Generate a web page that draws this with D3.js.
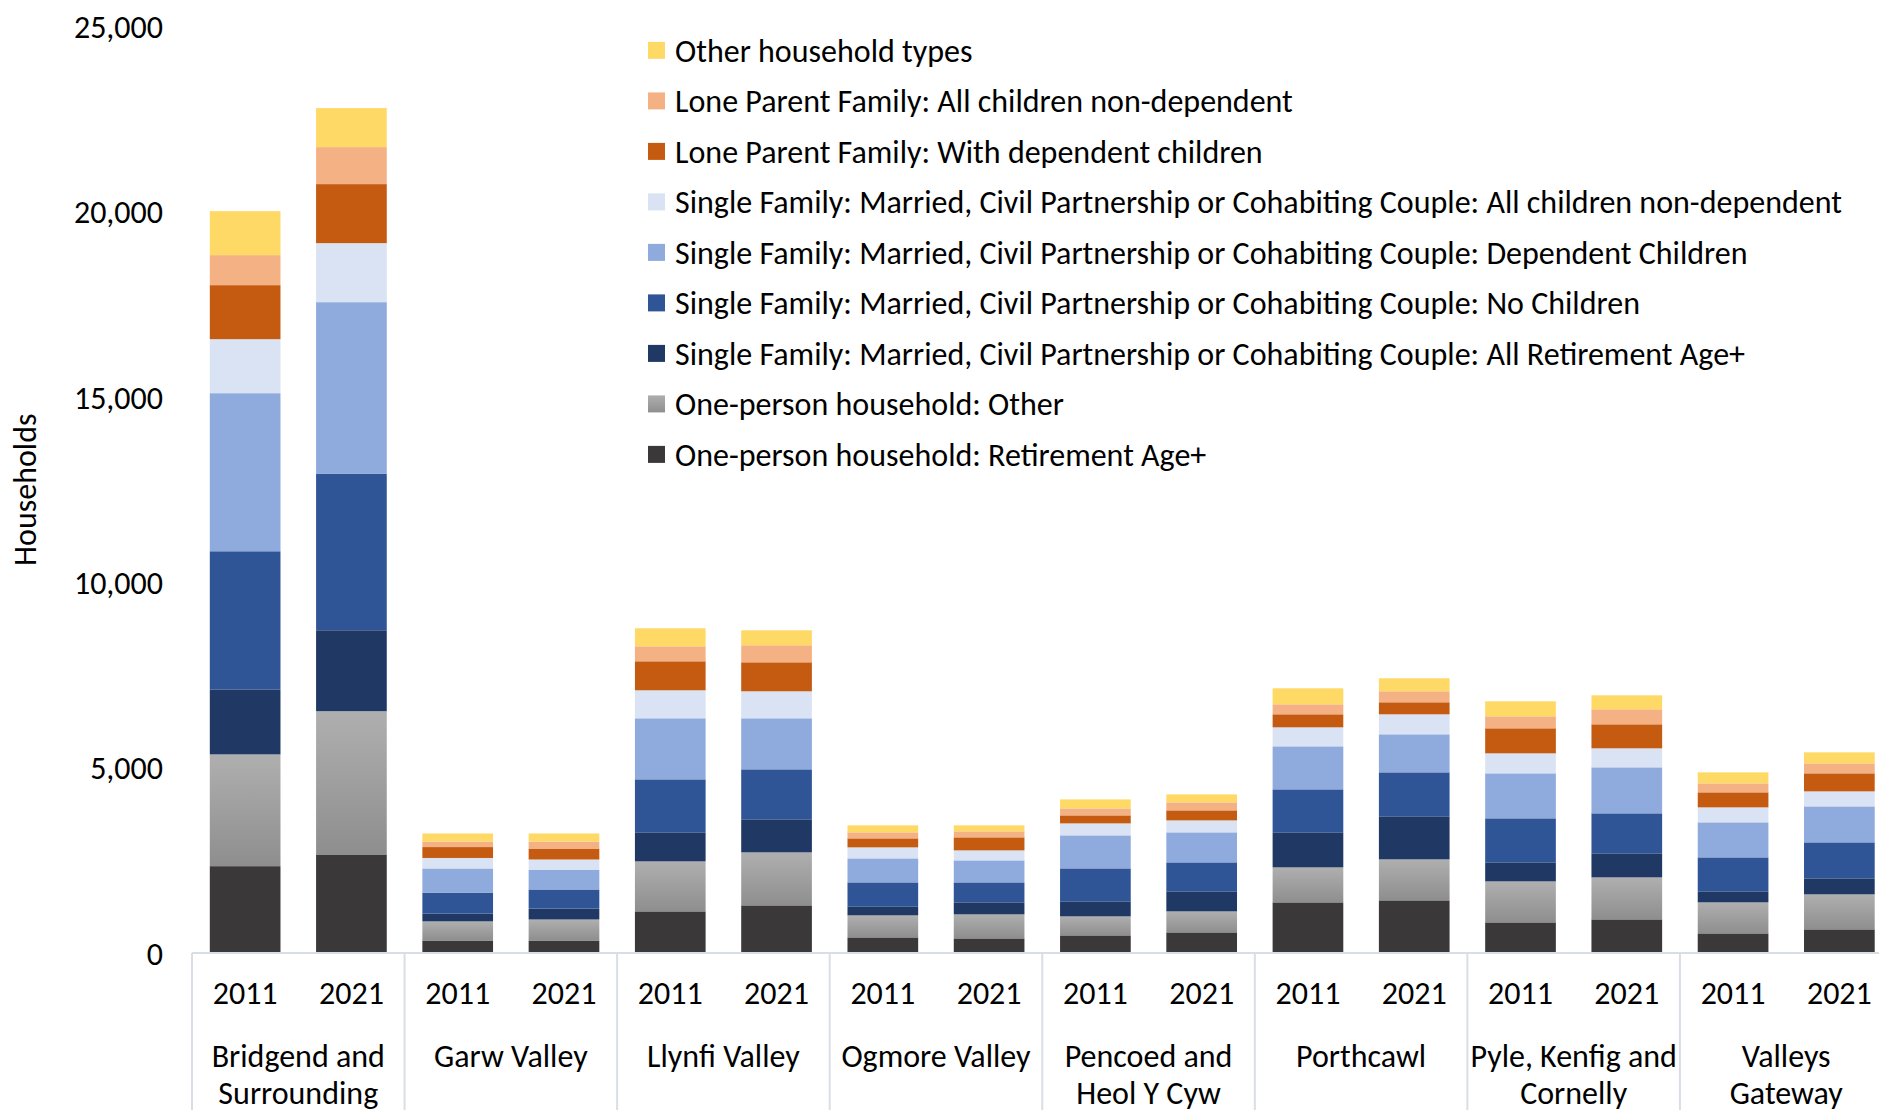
<!DOCTYPE html>
<html>
<head>
<meta charset="utf-8">
<script src="https://cdn.jsdelivr.net/npm/d3@7"></script>
<style>
    html, body { margin: 0; padding: 0; background: #fff; }
    svg { display: block; font-family: Calibri, Carlito, Lato, sans-serif; }
</style>
</head>
<body>
<div id="chart"></div>
<script>
// Households by type, 2011 vs 2021, per area

const regions = [
    ['Bridgend and', 'Surrounding'],
    ['Garw Valley'],
    ['Llynfi Valley'],
    ['Ogmore Valley'],
    ['Pencoed and', 'Heol Y Cyw'],
    ['Porthcawl'],
    ['Pyle, Kenfig and', 'Cornelly'],
    ['Valleys', 'Gateway']
];
const years = ['2011', '2021'];

// one value per bar: region by region, 2011 then 2021
const onePersonRetired = [2343, 2659, 337, 337, 1123, 1285, 421, 394, 475, 556, 1366, 1420, 826, 907, 529, 637];
const onePersonOther   = [3015, 3865, 516, 567, 1349, 1430, 594, 648, 513, 567, 944, 1106, 1106, 1133, 837, 945];
const coupleRetired    = [1754, 2183, 210, 294, 783, 891, 243, 324, 405, 540, 945, 1161, 513, 648, 297, 431];
const coupleNoChildren = [3727, 4219, 567, 516, 1430, 1349, 647, 539, 890, 782, 1160, 1187, 1188, 1080, 917, 972];
const coupleDependent  = [4265, 4634, 651, 535, 1647, 1377, 648, 594, 891, 810, 1161, 1026, 1214, 1241, 945, 971];
const coupleNonDep     = [1457, 1592, 283, 274, 756, 729, 297, 270, 323, 323, 513, 540, 540, 513, 404, 405];
const loneDependent    = [1458, 1593, 294, 295, 782, 782, 243, 351, 216, 270, 351, 324, 675, 648, 405, 486];
const loneNonDep       = [810, 998, 149, 189, 405, 459, 162, 162, 188, 216, 270, 297, 324, 405, 243, 270];
const otherTypes       = [1187, 1053, 218, 218, 486, 405, 189, 162, 243, 215, 432, 351, 405, 378, 297, 297];

// bottom to top
const series = [
    { key: 'One-person household: Retirement Age+', values: onePersonRetired, color: '#3a3838' },
    { key: 'One-person household: Other', values: onePersonOther, color: 'url(#grayFill)' },
    { key: 'Single Family: Married, Civil Partnership or Cohabiting Couple: All Retirement Age+', values: coupleRetired, color: '#203864' },
    { key: 'Single Family: Married, Civil Partnership or Cohabiting Couple: No Children', values: coupleNoChildren, color: '#2f5597' },
    { key: 'Single Family: Married, Civil Partnership or Cohabiting Couple: Dependent Children', values: coupleDependent, color: '#8faadc' },
    { key: 'Single Family: Married, Civil Partnership or Cohabiting Couple: All children non-dependent', values: coupleNonDep, color: '#dae3f3' },
    { key: 'Lone Parent Family: With dependent children', values: loneDependent, color: '#c55a11' },
    { key: 'Lone Parent Family: All children non-dependent', values: loneNonDep, color: '#f4b183' },
    { key: 'Other household types', values: otherTypes, color: '#ffd966' }
];

const yTicks = [0, 5000, 10000, 15000, 20000, 25000];

const width = 1879, height = 1110;
const plot = { left: 192, right: 1892.5, top: 26.4, bottom: 953 };
const fontSize = 32;

// rows for the stack
const rows = [];
regions.forEach((r, ri) => {
    years.forEach((yr, yi) => {
        const row = { region: ri, year: yr };
        series.forEach(s => { row[s.key] = s.values[ri * 2 + yi]; });
        rows.push(row);
    });
});

const stacked = d3.stack().keys(series.map(s => s.key))(rows);

const svg = d3.select('#chart')
    .append('svg')
    .attr('width', width)
    .attr('height', height);

const defs = svg.append('defs');
const grad = defs.append('linearGradient')
    .attr('id', 'grayFill')
    .attr('x1', 0).attr('y1', 0).attr('x2', 0).attr('y2', 1);
grad.append('stop').attr('offset', '0%').attr('stop-color', '#afafaf');
grad.append('stop').attr('offset', '100%').attr('stop-color', '#8e8e8e');

// Scales
const xRegion = d3.scaleBand()
    .domain(d3.range(regions.length))
    .range([plot.left, plot.right]);

const xYear = d3.scaleBand()
    .domain(years)
    .range([0, xRegion.bandwidth()])
    .paddingInner(0.335)
    .paddingOuter(0.1675);

const y = d3.scaleLinear()
    .domain([0, 25000])
    .range([plot.bottom, plot.top]);

// Bars
const colorOf = new Map(series.map(s => [s.key, s.color]));

svg.append('g')
    .selectAll('g')
    .data(stacked)
    .join('g')
    .attr('fill', d => colorOf.get(d.key))
    .selectAll('rect')
    .data(d => d)
    .join('rect')
    .attr('x', d => xRegion(d.data.region) + xYear(d.data.year))
    .attr('y', d => y(d[1]))
    .attr('width', xYear.bandwidth())
    .attr('height', d => y(d[0]) - y(d[1]));

// Y axis (labels only)
const yAxis = d3.axisLeft(y)
    .tickValues(yTicks)
    .tickFormat(d3.format(','))
    .tickSize(0)
    .tickPadding(0);

svg.append('g')
    .attr('transform', 'translate(163,0)')
    .call(yAxis)
    .call(g => g.select('.domain').remove())
    .selectAll('text')
    .attr('font-size', fontSize)
    .attr('fill', '#000')
    .attr('font-family', 'Calibri, Carlito, Lato, sans-serif')
    .attr('dy', '0.35em');

svg.append('text')
    .attr('transform', `translate(36,${(plot.top + plot.bottom) / 2}) rotate(-90)`)
    .attr('text-anchor', 'middle')
    .attr('font-size', fontSize)
    .text('Households');

// X axis: baseline and group separators
const axisColor = '#d9dee6';
svg.append('line')
    .attr('x1', plot.left).attr('x2', plot.right)
    .attr('y1', plot.bottom).attr('y2', plot.bottom)
    .attr('stroke', axisColor).attr('stroke-width', 2);

svg.append('g')
    .selectAll('line')
    .data(d3.range(regions.length + 1))
    .join('line')
    .attr('x1', i => i < regions.length ? xRegion(i) : plot.right)
    .attr('x2', i => i < regions.length ? xRegion(i) : plot.right)
    .attr('y1', plot.bottom)
    .attr('y2', height)
    .attr('stroke', axisColor)
    .attr('stroke-width', 2);

// year labels
svg.append('g')
    .selectAll('text')
    .data(rows)
    .join('text')
    .attr('x', d => xRegion(d.region) + xYear(d.year) + xYear.bandwidth() / 2)
    .attr('y', 993)
    .attr('dy', '0.35em')
    .attr('text-anchor', 'middle')
    .attr('font-size', fontSize)
    .text(d => d.year);

// region labels
svg.append('g')
    .selectAll('text')
    .data(regions)
    .join('text')
    .attr('x', (d, i) => xRegion(i) + xRegion.bandwidth() / 2)
    .attr('text-anchor', 'middle')
    .attr('font-size', fontSize)
    .selectAll('tspan')
    .data(d => d)
    .join('tspan')
    .attr('x', function () { return this.parentNode.getAttribute('x'); })
    .attr('y', (d, i) => 1056 + i * 37)
    .attr('dy', '0.35em')
    .text(d => d);

// Legend, top entry first
const legend = svg.append('g')
    .selectAll('g')
    .data(series.slice().reverse())
    .join('g')
    .attr('transform', (d, i) => `translate(648,${50.4 + i * 50.5})`);

legend.append('rect')
    .attr('x', 0)
    .attr('y', -8.5)
    .attr('width', 17)
    .attr('height', 17)
    .attr('fill', d => d.color);

legend.append('text')
    .attr('x', 27)
    .attr('dy', '0.35em')
    .attr('font-size', fontSize)
    .text(d => d.key);
</script>
</body>
</html>
